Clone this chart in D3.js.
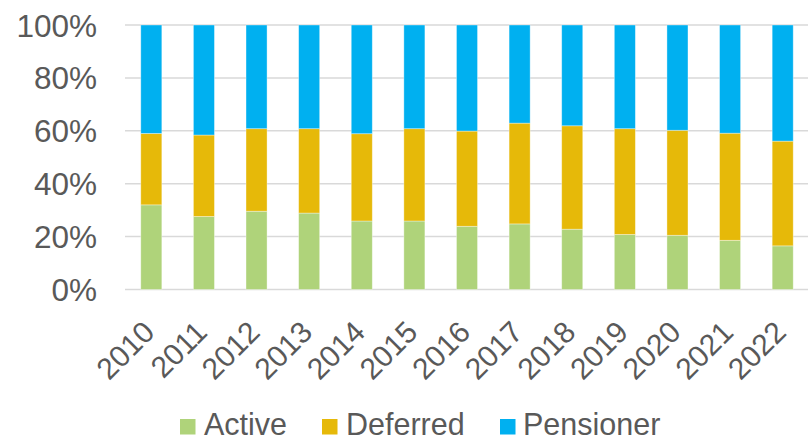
<!DOCTYPE html>
<html>
<head>
<meta charset="utf-8">
<script src="https://cdn.jsdelivr.net/npm/d3@7"></script>
<style>
  html, body { margin: 0; padding: 0; background: #fff; }
  svg { display: block; font-family: "Liberation Sans", Arial, sans-serif; }
</style>
</head>
<body>
<svg id="chart" width="808" height="441"></svg>
<script>
const years = ["2010","2011","2012","2013","2014","2015","2016","2017","2018","2019","2020","2021","2022"];
const active    = [32.0, 27.6, 29.6, 28.9, 25.9, 25.9, 23.9, 24.8, 22.8, 20.8, 20.5, 18.6, 16.5];
const deferred  = [27.0, 30.8, 31.2, 31.9, 33.0, 34.9, 36.0, 38.1, 39.1, 40.0, 39.7, 40.5, 39.6];
const pensioner = [41.0, 41.6, 39.2, 39.2, 41.1, 39.2, 40.1, 37.1, 38.1, 39.2, 39.8, 40.9, 43.9];
const seriesNames = ["Active", "Deferred", "Pensioner"];
const colors = ["#AFD37A", "#E6B909", "#00B0F0"];
const yTicks = [0, 0.2, 0.4, 0.6, 0.8, 1.0];

const svg = d3.select("#chart");
const textColor = "#595959";

const rows = years.map((y, i) => {
  const tot = active[i] + deferred[i] + pensioner[i];
  return { year: y, Active: active[i] / tot, Deferred: deferred[i] / tot, Pensioner: pensioner[i] / tot };
});

const x = d3.scaleBand().domain(years).range([125, 809]).paddingInner(0.6).paddingOuter(0.3);
const y = d3.scaleLinear().domain([0, 1]).range([289.5, 25]);

// gridlines
svg.append("g").selectAll("line").data(yTicks).join("line")
  .attr("x1", 125).attr("x2", 808)
  .attr("y1", d => y(d)).attr("y2", d => y(d))
  .attr("stroke", "#d9d9d9").attr("stroke-width", 1.5);

// y axis labels
const yAxis = d3.axisLeft(y).tickValues(yTicks).tickFormat(d3.format(".0%")).tickSize(0).tickPadding(0);
const yg = svg.append("g").attr("transform", "translate(97,0)").call(yAxis);
yg.select(".domain").remove();
yg.selectAll("text").attr("fill", textColor).style("font-size", "31.5px")
  .style("font-family", "'Liberation Sans', Arial, sans-serif").attr("dy", "0.35em");

// stacked bars
const stack = d3.stack().keys(seriesNames);
const stacked = stack(rows);
svg.append("g").selectAll("g").data(stacked).join("g")
  .attr("fill", (d, i) => colors[i])
  .selectAll("rect").data(d => d).join("rect")
  .attr("x", d => x(d.data.year))
  .attr("width", x.bandwidth())
  .attr("y", d => y(d[1]))
  .attr("height", d => y(d[0]) - y(d[1]))
  .attr("stroke", "rgba(255,255,255,0.45)").attr("stroke-width", 0.8);

// x axis labels
svg.append("g").selectAll("text").data(years).join("text")
  .attr("transform", d => `translate(${x(d) + x.bandwidth() / 2 + 5},334) rotate(-45)`)
  .attr("text-anchor", "end")
  .attr("fill", textColor)
  .style("font-size", "30px")
  .text(d => d);

// legend
const legendItems = [
  { name: "Active", sx: 180, tx: 204 },
  { name: "Deferred", sx: 322, tx: 346 },
  { name: "Pensioner", sx: 500, tx: 523 }
];
const lg = svg.append("g");
legendItems.forEach((it, i) => {
  lg.append("rect").attr("x", it.sx).attr("y", 419).attr("width", 15.5).attr("height", 15.5).attr("fill", colors[i]);
  lg.append("text").attr("x", it.tx).attr("y", 434.5).attr("fill", textColor)
    .style("font-size", "30.5px").text(it.name);
});
</script>
</body>
</html>
